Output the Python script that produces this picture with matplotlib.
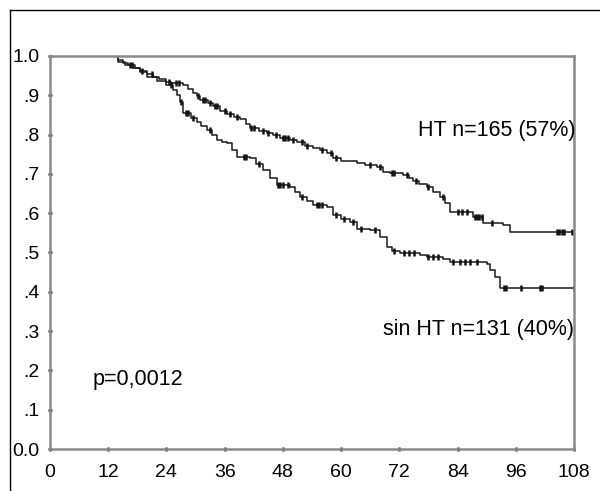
import numpy as np
import matplotlib.pyplot as plt
from matplotlib.lines import Line2D

plt.rcParams['font.family'] = ['Liberation Sans', 'DejaVu Sans']

# curva HT (superior): tiempos (meses) y supervivencia
ht_t = [0, 14, 15, 16, 17.5, 18.5, 20, 21.3, 22.5, 24, 25, 27.5, 28.5, 29.5, 30.2,
        31, 32.5, 33.7, 35, 36.5, 38, 39.2, 40.5, 41.2, 43, 44.7, 46, 47.5, 49.5,
        51, 52.5, 54.3, 55.6, 57, 58.4, 60, 63.2, 65, 67.3, 68.7, 70, 72.8, 74,
        74.9, 76, 77.6, 79, 80.4, 81.5, 82.4, 87.2, 89.3, 93.4, 94.8, 108]
ht_s = [1.0, 0.99, 0.983, 0.976, 0.969, 0.962, 0.955, 0.947, 0.941, 0.935, 0.930,
        0.925, 0.915, 0.905, 0.897, 0.889, 0.880, 0.872, 0.860, 0.852, 0.846,
        0.840, 0.828, 0.816, 0.810, 0.803, 0.798, 0.792, 0.786, 0.780, 0.772,
        0.765, 0.760, 0.752, 0.740, 0.733, 0.727, 0.723, 0.717, 0.706, 0.701,
        0.697, 0.690, 0.683, 0.675, 0.667, 0.655, 0.642, 0.625, 0.604, 0.591,
        0.574, 0.570, 0.553, 0.553]
ht_cens = [16.5, 17, 19, 21, 24.5, 26, 26.5, 30.5, 31.5, 32, 33, 34, 34.5, 36,
           37, 38.5, 41.5, 42, 44, 45, 46.5, 48, 48.5, 49, 50, 52, 53, 56, 58,
           59, 66, 68, 70.5, 71, 73.5, 75.5, 78, 81, 84, 85, 86, 87.5, 88, 88.5,
           89, 91, 104.5, 105, 105.5, 106, 107.5]

# curva sin HT (inferior)
sin_t = [0, 14, 15.5, 17.2, 18.5, 19.9, 22, 24, 25.4, 26.2, 26.8, 27.5, 29, 30.2,
         31.2, 32.3, 33.3, 34.4, 35.5, 36.4, 37.5, 38.5, 41.2, 42.5, 44, 45.3,
         46.7, 49.5, 50.5, 51.5, 53, 54.3, 57, 58.4, 60, 61.8, 63.2, 66, 68, 69.4,
         70.5, 72.1, 76.3, 77.6, 81, 82.4, 90, 90.7, 91.7, 92.7, 108]
sin_s = [1.0, 0.985, 0.977, 0.969, 0.958, 0.947, 0.936, 0.926, 0.913, 0.90, 0.884,
         0.854, 0.843, 0.833, 0.822, 0.812, 0.800, 0.786, 0.781, 0.778, 0.760,
         0.744, 0.740, 0.725, 0.710, 0.690, 0.672, 0.667, 0.655, 0.642, 0.632,
         0.621, 0.617, 0.595, 0.585, 0.578, 0.561, 0.557, 0.540, 0.515, 0.505,
         0.498, 0.494, 0.489, 0.484, 0.477, 0.472, 0.455, 0.438, 0.409, 0.409]
sin_cens = [25, 27, 28, 28.5, 29.5, 33, 40, 40.5, 43, 47, 47.5, 48, 49, 52, 55,
            55.5, 56, 59, 60.5, 62.5, 64, 67, 71, 73, 74, 75, 78, 79, 80, 83, 84.5,
            85.5, 86.5, 88, 93.5, 94, 97, 101, 101.5, 108]

xticks = [0, 12, 24, 36, 48, 60, 72, 84, 96, 108]
yticks = [0, .1, .2, .3, .4, .5, .6, .7, .8, .9, 1.0]
ylabels = ['0.0', '.1', '.2', '.3', '.4', '.5', '.6', '.7', '.8', '.9', '1.0']

fig = plt.figure(figsize=(6, 4.91), dpi=100)
ax = fig.add_axes([0.0833, 0.0855, 0.8734, 0.8005])

# marco exterior (solo arriba e izquierda, el resto queda recortado)
fx = 9.5 / 600
fy = 1 - 9.5 / 491
fig.add_artist(Line2D([fx, 1.0], [fy, fy], transform=fig.transFigure,
                      color='black', linewidth=1.0))
fig.add_artist(Line2D([fx, fx], [0.0, fy], transform=fig.transFigure,
                      color='black', linewidth=1.0))

for t, s, c in [(ht_t, ht_s, ht_cens), (sin_t, sin_s, sin_cens)]:
    ax.step(t, s, where='post', color='#1a1a1a', linewidth=1.1)
    idx = np.searchsorted(t, c, side='right') - 1
    cy = np.array(s)[idx]
    ax.plot(c, cy, linestyle='none', marker='|', color='#111111',
            markersize=4, markeredgewidth=1.8)

ax.set_xlim(0, 108)
ax.set_ylim(0, 1.0)
ax.set_xticks(xticks)
ax.set_yticks(yticks)
ax.set_yticklabels(ylabels)
ax.tick_params(axis='both', direction='inout', length=3, width=1.8,
               color='#333333', labelsize=14)
ax.tick_params(axis='x', pad=9)
ax.tick_params(axis='y', pad=6)
for sp in ax.spines.values():
    sp.set_color('#8a8a8a')
    sp.set_linewidth(1.8)

ax.text(75.8, 0.81, 'HT n=165 (57%)', fontsize=15.5, va='center', ha='left')
ax.text(68.6, 0.303, 'sin HT n=131 (40%)', fontsize=15.5, va='center', ha='left')
ax.text(8.7, 0.178, 'p=0,0012', fontsize=15.5, va='center', ha='left')

fig.savefig('out.png', dpi=100)
